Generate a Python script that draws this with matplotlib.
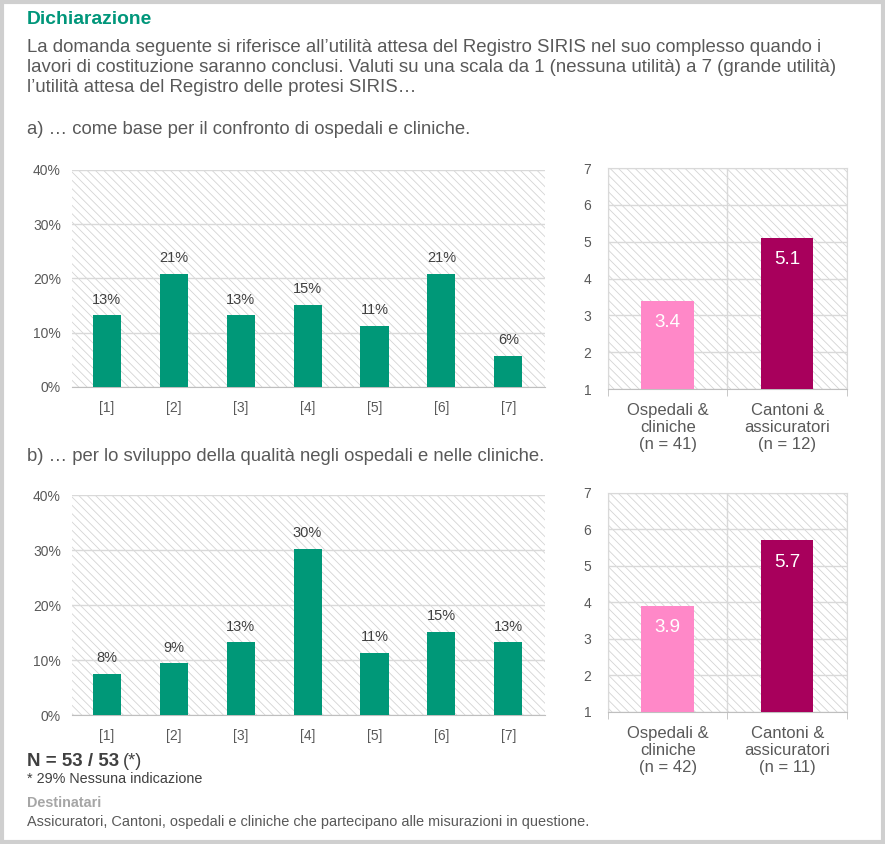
import matplotlib
matplotlib.use("Agg")
import matplotlib.pyplot as plt
from matplotlib.patches import Rectangle
import numpy as np

plt.rcParams['font.family'] = ['Liberation Sans', 'DejaVu Sans']
plt.rcParams['hatch.linewidth'] = 0.6

# data
scale = ['[1]', '[2]', '[3]', '[4]', '[5]', '[6]', '[7]']
pct_a = [13.2, 20.8, 13.2, 15.1, 11.3, 20.8, 5.7]
pct_b = [7.5, 9.4, 13.2, 30.2, 11.3, 15.1, 13.2]
groups = ['Ospedali &\ncliniche\n(n = 41)', 'Cantoni &\nassicuratori\n(n = 12)']
groups_b = ['Ospedali &\ncliniche\n(n = 42)', 'Cantoni &\nassicuratori\n(n = 11)']
mean_a = [3.4, 5.1]
mean_b = [3.9, 5.7]

green = '#009878'
pinks = ['#ff88c8', '#a8005c']
txt = '#595959'
grid = '#d9d9d9'

fig = plt.figure(figsize=(8.85, 8.44), dpi=100)

# border
fig.patches.append(Rectangle((0.002, 0.002), 0.996, 0.996, transform=fig.transFigure,
                             fill=False, edgecolor='#cfcfcf', linewidth=3))


def hatch_bg(ax):
    ax.add_patch(Rectangle((0, 0), 1, 1, transform=ax.transAxes, facecolor='white',
                           edgecolor='#d4d4d4', linewidth=0, hatch='\\\\\\\\', zorder=0))


def pct_chart(ax, vals):
    hatch_bg(ax)
    x = np.arange(len(vals))
    ax.bar(x, vals, width=0.42, color=green, zorder=3)
    for xi, v in zip(x, vals):
        ax.text(xi, v + 1.6, f'{v:.0f}%', ha='center', va='bottom', fontsize=10.5, color='#404040')
    ax.set_xlim(-0.52, 6.55)
    ax.set_ylim(0, 40)
    ax.set_yticks([0, 10, 20, 30, 40])
    ax.set_yticklabels([f'{t}%' for t in [0, 10, 20, 30, 40]])
    ax.set_xticks(x)
    ax.set_xticklabels(scale)
    ax.yaxis.grid(True, color=grid, linewidth=1, zorder=1)
    ax.set_axisbelow(True)
    for s in ['top', 'right', 'left']:
        ax.spines[s].set_visible(False)
    ax.spines['bottom'].set_color('#bfbfbf')
    ax.tick_params(length=0, labelsize=10, labelcolor=txt, pad=10)
    ax.tick_params(axis='y', pad=8)


def mean_chart(ax, vals, labels):
    hatch_bg(ax)
    x = np.arange(len(vals))
    ax.bar(x, vals, width=0.44, color=pinks, zorder=3)
    for xi, v in zip(x, vals):
        ax.text(xi, v - 0.36, f'{v:.1f}', ha='center', va='top', fontsize=13.5, color='white', zorder=4)
    ax.set_xlim(-0.5, 1.5)
    ax.set_ylim(1, 7)
    ax.set_yticks(range(1, 8))
    ax.set_xticks(x)
    ax.set_xticklabels(labels, linespacing=1.17)
    ax.set_xticks([-0.5, 0.5, 1.5], minor=True)
    ax.yaxis.grid(True, color=grid, linewidth=1, zorder=1)
    ax.xaxis.grid(True, which='minor', color=grid, linewidth=1, zorder=1)
    ax.set_axisbelow(True)
    for s in ax.spines.values():
        s.set_color(grid)
    ax.spines['bottom'].set_color('#bfbfbf')
    ax.tick_params(axis='x', which='major', length=0, labelsize=12, labelcolor=txt, pad=10)
    ax.tick_params(axis='x', which='minor', length=5, color='#bfbfbf')
    ax.tick_params(axis='y', length=0, labelsize=10, labelcolor=txt, pad=12)


ax1 = fig.add_axes([0.0814, 0.5415, 0.5345, 0.2571])
pct_chart(ax1, pct_a)
ax2 = fig.add_axes([0.687, 0.539, 0.270, 0.2618])
mean_chart(ax2, mean_a, groups)

ax3 = fig.add_axes([0.0814, 0.1528, 0.5345, 0.2607])
pct_chart(ax3, pct_b)
ax4 = fig.add_axes([0.687, 0.1564, 0.270, 0.2595])
mean_chart(ax4, mean_b, groups_b)

# texts
fig.text(27 / 885, 1 - 20 / 844, 'Dichiarazione', fontsize=13.9, fontweight='bold', color='#00967a', va='center')
body = ["La domanda seguente si riferisce all\u2019utilità attesa del Registro SIRIS nel suo complesso quando i",
        "lavori di costituzione saranno conclusi. Valuti su una scala da 1 (nessuna utilità) a 7 (grande utilità)",
        "l\u2019utilità attesa del Registro delle protesi SIRIS\u2026"]
for i, line in enumerate(body):
    fig.text(27 / 885, 1 - (47 + 20.5 * i) / 844, line, fontsize=13.4, color=txt, va='center')
fig.text(27 / 885, 1 - 130 / 844, 'a) \u2026 come base per il confronto di ospedali e cliniche.',
         fontsize=13.3, color=txt, va='center')
fig.text(27 / 885, 1 - 457 / 844, 'b) \u2026 per lo sviluppo della qualità negli ospedali e nelle cliniche.',
         fontsize=13.3, color=txt, va='center')

fig.text(27 / 885, 1 - 762 / 844, 'N = 53 / 53', fontsize=13.5, fontweight='bold', color='#404040', va='center')
fig.text(123 / 885, 1 - 762 / 844, '(*)', fontsize=13, color='#404040', va='center')
fig.text(27 / 885, 1 - 779 / 844, '* 29% Nessuna indicazione', fontsize=10.4, color='#404040', va='center')
fig.text(27 / 885, 1 - 803 / 844, 'Destinatari', fontsize=10.4, fontweight='bold', color='#a6a6a6', va='center')
fig.text(27 / 885, 1 - 822 / 844,
         'Assicuratori, Cantoni, ospedali e cliniche che partecipano alle misurazioni in questione.',
         fontsize=10.45, color=txt, va='center')

fig.savefig('out.png', dpi=100)
